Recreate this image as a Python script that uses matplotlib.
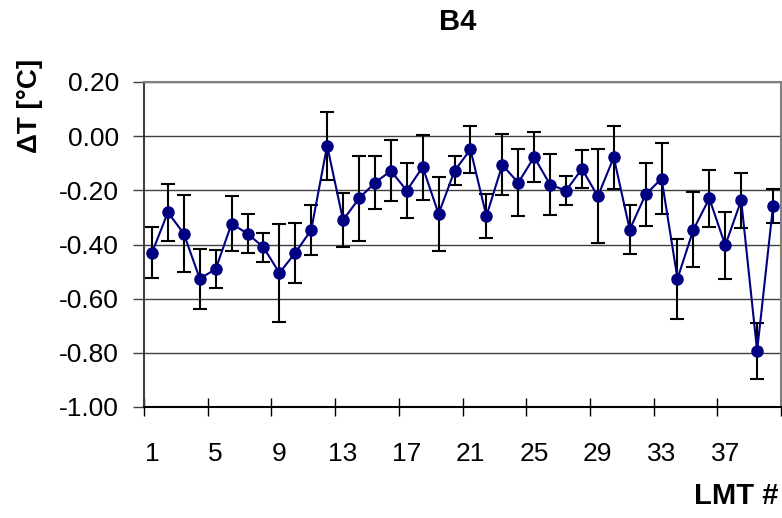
import numpy as np
import matplotlib
matplotlib.use("Agg")
import matplotlib.pyplot as plt

plt.rcParams['font.family'] = ['Liberation Sans', 'DejaVu Sans']

# mean temperature offset per LMT and its spread
lmt = np.arange(1, 41)
delta_t = [-0.431, -0.281, -0.360, -0.526, -0.491, -0.323, -0.360, -0.410, -0.505, -0.431,
           -0.346, -0.035, -0.310, -0.230, -0.172, -0.128, -0.201, -0.114, -0.287, -0.128,
           -0.049, -0.295, -0.106, -0.172, -0.077, -0.179, -0.201, -0.121, -0.222, -0.078,
           -0.345, -0.215, -0.157, -0.526, -0.345, -0.230, -0.403, -0.237, -0.793, -0.258]
err = [0.094, 0.106, 0.141, 0.111, 0.069, 0.101, 0.072, 0.054, 0.181, 0.112,
       0.091, 0.126, 0.100, 0.156, 0.097, 0.112, 0.101, 0.120, 0.137, 0.054,
       0.087, 0.080, 0.113, 0.123, 0.094, 0.112, 0.055, 0.070, 0.174, 0.116,
       0.090, 0.116, 0.130, 0.148, 0.138, 0.105, 0.123, 0.101, 0.104, 0.062]
ytick_vals = [0.20, 0.00, -0.20, -0.40, -0.60, -0.80, -1.00]
xtick_labels = [1, 5, 9, 13, 17, 21, 25, 29, 33, 37]

fig = plt.figure(figsize=(7.82, 5.18), dpi=100)
ax = fig.add_axes([144/782, 1-407/518, (781-144)/782, (407-82)/518])

ax.errorbar(lmt, delta_t, yerr=err, fmt='none', ecolor='black',
            elinewidth=1.5, capsize=4.7, capthick=1.5, zorder=3)
ax.plot(lmt, delta_t, color='#000080', lw=1.5, marker='o', ms=8,
        mfc='#000080', mec='#000080', zorder=4)

ax.set_xlim(0.5, 40.5)
ax.set_ylim(-1.0, 0.2)

# y axis: gridlines and outward ticks
ax.set_yticks(ytick_vals)
ax.set_yticklabels(['%.2f' % v for v in ytick_vals])
ax.yaxis.grid(True, color='#404040', lw=1)
ax.tick_params(axis='y', direction='out', length=8, width=1, pad=10,
               labelsize=19, color='#404040')

# x axis: boundary ticks every 4 categories, labels centred on categories
ax.set_xticks(np.arange(0.5, 41, 4))
ax.set_xticklabels([])
ax.tick_params(axis='x', which='major', direction='inout', length=13, width=1,
               color='black')
ax.set_xticks(xtick_labels, minor=True)
ax.set_xticklabels([str(v) for v in xtick_labels], minor=True)
ax.tick_params(axis='x', which='minor', length=0, pad=25, labelsize=19)

ax.spines['left'].set_color('#404040')
ax.spines['left'].set_linewidth(1.5)
ax.spines['bottom'].set_color('black')
ax.spines['bottom'].set_linewidth(1.5)
ax.spines['top'].set_color('#808080')
ax.spines['top'].set_linewidth(1.5)
ax.spines['right'].set_color('#808080')
ax.spines['right'].set_linewidth(1.5)

fig.text(458/782, 1-22/518, 'B4', ha='center', va='center',
         fontsize=21, fontweight='bold')
fig.text(30/782, 1-106/518, 'ΔT [°C]', ha='center', va='center', rotation=90,
         fontsize=20, fontweight='bold')
fig.text(778/782, 1-496/518, 'LMT #', ha='right', va='center',
         fontsize=21, fontweight='bold')

fig.savefig('out.png', dpi=100)
